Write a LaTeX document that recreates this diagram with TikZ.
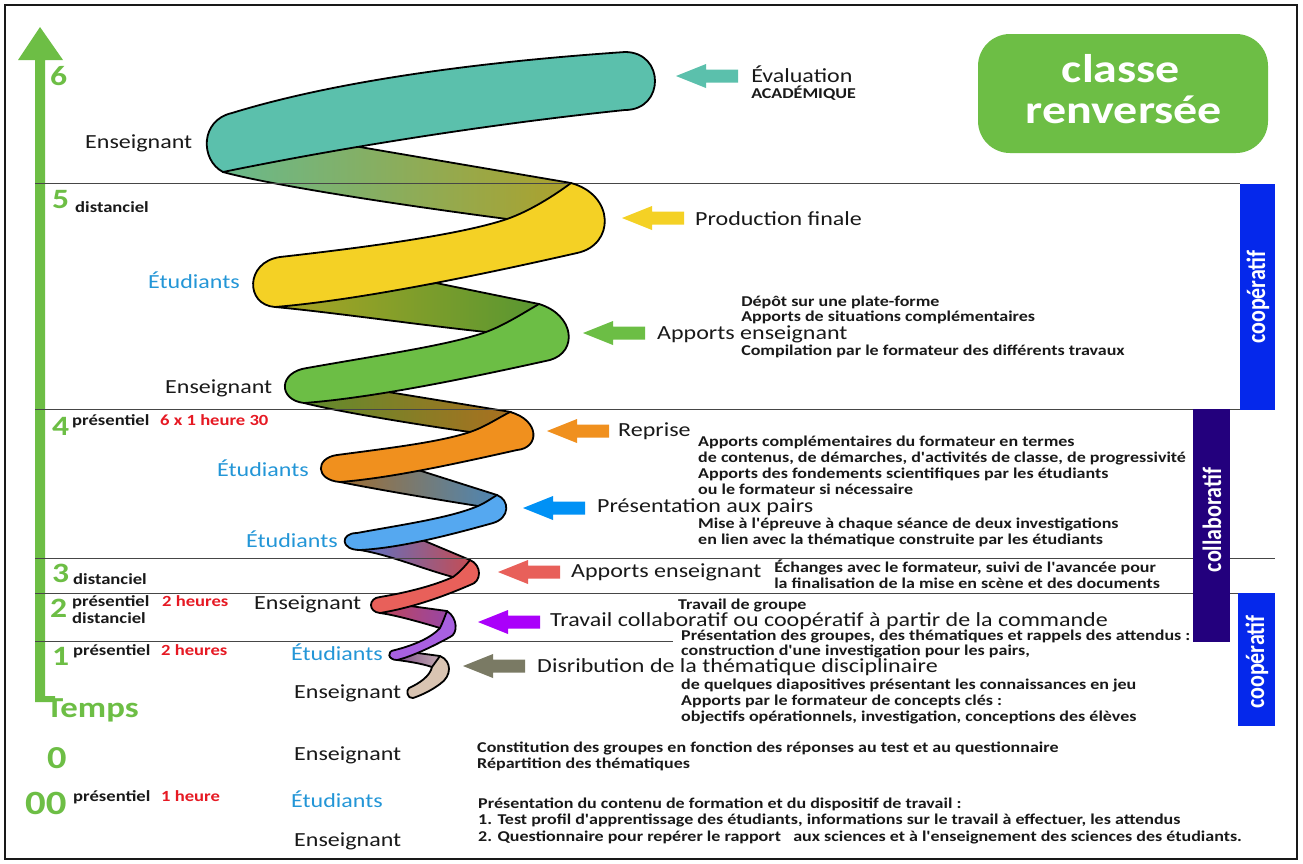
\documentclass[tikz,border=0pt]{standalone}
\usepackage{fontspec}
\setmainfont{Carlito}
\definecolor{axgreen}{RGB}{109,190,69}
\definecolor{teal1}{RGB}{91,192,172}
\definecolor{yel1}{RGB}{244,209,37}
\definecolor{grn1}{RGB}{108,190,69}
\definecolor{ora1}{RGB}{240,144,30}
\definecolor{blu1}{RGB}{85,168,240}
\definecolor{red1}{RGB}{232,96,90}
\definecolor{pur1}{RGB}{168,96,224}
\definecolor{tan1}{RGB}{217,196,178}
\definecolor{arblue}{RGB}{0,145,245}
\definecolor{arpur}{RGB}{170,0,250}
\definecolor{argray}{RGB}{122,122,100}
\definecolor{stublue}{RGB}{35,150,215}
\definecolor{hred}{RGB}{230,25,35}
\definecolor{barblue}{RGB}{5,40,235}
\definecolor{barind}{RGB}{35,0,125}
\definecolor{txt}{RGB}{25,25,25}
\definecolor{rulec}{RGB}{70,70,70}
\newcommand{\sq}{\textquotesingle}
\newcommand{\barrow}[3]{\fill[#1] (#2,#3) -- ++(30,-12) -- ++(0,5.5) -- ++(32,0) -- ++(0,13) -- ++(-32,0) -- ++(0,5.5) -- cycle;}
\tikzset{
  lbl/.style={anchor=base west, inner sep=0pt, font=\fontsize{20}{24}\selectfont, text=txt},
  stu/.style={lbl, text=stublue},
  sm/.style={anchor=base west, inner sep=0pt, font=\bfseries\fontsize{15}{18}\selectfont, text=txt},
  lsm/.style={sm, font=\bfseries\fontsize{15.5}{18}\selectfont},
  smred/.style={lsm, text=hred},
  num/.style={anchor=base west, inner sep=0pt, font=\bfseries\fontsize{28}{30}\selectfont, text=axgreen},
  ribbon/.style={draw=black, line width=1.8pt, line join=round},
  hline/.style={draw=rulec, line width=0.9pt},
  bartxt/.style={rotate=90, text=white, inner sep=0pt, font=\bfseries\fontsize{22}{24}\selectfont},
  ttl/.style={anchor=base, inner sep=0pt, text=white, font=\bfseries\fontsize{40}{44}\selectfont}
}
\begin{document}
\begin{tikzpicture}[xscale=1.2, x=0.833333pt, y=-1pt, every node/.append style={transform shape}]
\useasboundingbox (0,0) rectangle (1303,863);
\fill[white] (0,0) rectangle (1303,863);
\draw[line width=2pt, draw=txt] (5,5) rectangle (1297,859);

% time axis
\fill[axgreen] (40,27) -- (63,60) -- (45,60) -- (45,696) -- (55,696) -- (55,702) -- (35,702) -- (35,60) -- (18,60) -- cycle;

% back bands
\shadedraw[ribbon, left color={rgb,255:red,105;green,185;blue,140}, right color={rgb,255:red,175;green,160;blue,40}]
 (226,169) -- (354,146) -- (571,183) -- (585,215) -- (515,228) -- (507,219) .. controls (400,205) and (270,185) .. (223,172) -- cycle;
\shadedraw[ribbon, left color={rgb,255:red,170;green,165;blue,35}, right color={rgb,255:red,85;green,150;blue,50}]
 (278,304) -- (436,283) -- (539,304) -- (552,330) -- (492,340) -- (486,332) .. controls (420,325) and (330,312) .. (275,307) -- cycle;
\shadedraw[ribbon, left color={rgb,255:red,95;green,140;blue,45}, right color={rgb,255:red,175;green,110;blue,30}]
 (307,400) -- (382,391) -- (511,412) -- (525,432) -- (475,440) -- (470,432) .. controls (420,425) and (340,412) .. (304,403) -- cycle;
\shadedraw[ribbon, left color={rgb,255:red,160;green,110;blue,50}, right color={rgb,255:red,75;green,135;blue,185}]
 (342,479) -- (415,469) -- (497,495) -- (502,508) -- (482,513) -- (478,506) .. controls (440,500) and (380,490) .. (340,482) -- cycle;
\shadedraw[ribbon, left color={rgb,255:red,90;green,115;blue,200}, right color={rgb,255:red,200;green,75;blue,80}]
 (362,548) -- (420,539) -- (470,560) -- (474,572) -- (458,580) -- (453,577) .. controls (420,568) and (390,555) .. (360,550) -- cycle;
\shadedraw[ribbon, left color={rgb,255:red,190;green,70;blue,90}, right color={rgb,255:red,150;green,70;blue,170}]
 (383,610) -- (403,605) -- (447,611) -- (452,625) -- (443,632) -- (440,628) .. controls (420,622) and (395,615) .. (380,613) -- cycle;
\shadedraw[ribbon, left color={rgb,255:red,130;green,80;blue,140}, right color={rgb,255:red,200;green,180;blue,180}]
 (399,657) -- (410,652) -- (440,656) -- (445,668) -- (432,667) .. controls (420,663) and (405,661) .. (397,660) -- cycle;

% horizontal rules
\draw[hline] (35,183) -- (1240,183);
\draw[hline] (35,409) -- (1240,409);
\draw[hline] (35,558) -- (1275,558);
\draw[hline] (35,593) -- (1238,593);
\draw[hline] (35,641) -- (673,641);

% front ribbons
\filldraw[ribbon, fill=teal1] (232,113) .. controls (300,92) and (420,66) .. (625,52) .. controls (665,52) and (665,110) .. (625,110) .. controls (480,125) and (330,150) .. (223,172) .. controls (200,160) and (200,120) .. (232,113) -- cycle;
\filldraw[ribbon, fill=yel1] (571,183) .. controls (615,195) and (615,245) .. (577,253) .. controls (480,275) and (360,300) .. (275,307) .. controls (245,305) and (245,262) .. (280,257) .. controls (360,248) and (460,235) .. (507,219) .. controls (530,211) and (555,195) .. (571,183) -- cycle;
\filldraw[ribbon, fill=grn1] (539,304) .. controls (575,315) and (578,352) .. (550,360) .. controls (460,380) and (370,398) .. (304,403) .. controls (278,400) and (278,372) .. (307,368) .. controls (380,355) and (450,345) .. (486,332) .. controls (505,325) and (525,312) .. (539,304) -- cycle;
\filldraw[ribbon, fill=ora1] (510,412) .. controls (540,420) and (540,448) .. (517,450) .. controls (450,465) and (390,478) .. (340,482) .. controls (315,480) and (315,458) .. (337,455) .. controls (390,448) and (440,442) .. (470,432) .. controls (485,427) and (498,418) .. (510,412) -- cycle;
\filldraw[ribbon, fill=blu1] (497,495) .. controls (510,500) and (510,518) .. (493,523) .. controls (450,535) and (400,548) .. (360,550) .. controls (340,550) and (340,533) .. (357,533) .. controls (400,525) and (450,518) .. (478,506) .. controls (485,503) and (492,498) .. (497,495) -- cycle;
\filldraw[ribbon, fill=red1] (470,560) .. controls (482,565) and (482,582) .. (470,585) .. controls (440,598) and (410,608) .. (380,613) .. controls (368,612) and (368,598) .. (380,597) .. controls (410,592) and (435,585) .. (453,577) .. controls (460,572) and (466,565) .. (470,560) -- cycle;
\filldraw[ribbon, fill=pur1] (447,611) .. controls (458,618) and (458,634) .. (450,637) .. controls (430,648) and (410,657) .. (397,660) .. controls (388,660) and (386,651) .. (395,650) .. controls (415,645) and (432,637) .. (440,628) .. controls (443,622) and (445,616) .. (447,611) -- cycle;
\filldraw[ribbon, fill=tan1] (440,656) .. controls (452,661) and (452,676) .. (440,684) .. controls (432,690) and (422,695) .. (413,698) .. controls (407,699) and (406,690) .. (409,688) .. controls (420,683) and (430,676) .. (432,667) -- cycle;

% pointing arrows
\barrow{teal1}{676}{76}
\barrow{yel1}{622}{218}
\barrow{grn1}{583}{333}
\barrow{ora1}{547}{431}
\barrow{arblue}{523}{508}
\barrow{red1}{498}{572}
\barrow{arpur}{478}{622}
\barrow{argray}{463}{666}

% title
\fill[axgreen, rounded corners=32pt] (978,34) rectangle (1268,153);
\node[ttl] (t1) at (1121,82) {classe};
\node[ttl] (t2) at (1124,123) {renversée};

% side bars
\fill[barblue] (1240,184) rectangle (1275,410);
\node[bartxt] (b1) at (1258,297) {coopératif};
\fill[barind] (1193,409) rectangle (1230,642);
\node[bartxt] (b2) at (1212,520) {collaboratif};
\fill[barblue] (1238,593) rectangle (1275,726);
\node[bartxt] (b3) at (1257,662) {coopératif};

% axis numbers
\node[num] (n6) at (50,85) {6};
\node[num] (n5) at (52,208) {5};
\node[num] (n4) at (52,435) {4};
\node[num] (n3) at (52,582) {3};
\node[num] (n2) at (50,617) {2};
\node[num] (n1) at (52,665) {1};
\node[num, font=\bfseries\fontsize{29}{31}\selectfont] (tp) at (46,717) {Temps};
\node[num, font=\bfseries\fontsize{32}{34}\selectfont] (n0) at (47,768) {0};
\node[num, font=\bfseries\fontsize{34}{36}\selectfont] (n00) at (25,814) {00};

\node[lsm] (d5) at (75,212) {distanciel};
\node[lsm] (p4) at (72,425) {présentiel};
\node[smred] (h4) at (160,425) {6 x 1 heure 30};
\node[lsm] (d3) at (73,584) {distanciel};
\node[lsm] (p2) at (72,606) {présentiel};
\node[smred] (h2) at (162,606) {2 heures};
\node[lsm] (d2) at (72,623) {distanciel};
\node[lsm] (p1) at (73,655) {présentiel};
\node[smred] (h1) at (161,655) {2 heures};
\node[lsm] (p0) at (73,801) {présentiel};
\node[smred] (h0) at (161,801) {1 heure};

% actors
\node[lbl] (a1) at (85,148) {Enseignant};
\node[stu] (a2) at (148,288) {Étudiants};
\node[lbl] (a3) at (165,393) {Enseignant};
\node[stu] (a4) at (217,476) {Étudiants};
\node[stu] (a5) at (246,547) {Étudiants};
\node[lbl] (a6) at (254,609) {Enseignant};
\node[stu] (a7) at (291,660) {Étudiants};
\node[lbl] (a8) at (294,698) {Enseignant};
\node[lbl] (a9) at (294,760) {Enseignant};
\node[stu] (a10) at (291,807) {Étudiants};
\node[lbl] (a11) at (294,846) {Enseignant};

% step labels
\node[lbl] (s6) at (751,82) {Évaluation};
\node[sm] (s6b) at (751,98) {ACADÉMIQUE};
\node[lbl] (s5) at (695,225) {Production finale};
\node[sm] (s5a) at (741,306) {Dépôt sur une plate-forme};
\node[sm] (s5b) at (741,321) {Apports de situations complémentaires};
\node[lbl] (s5c) at (657,339) {Apports enseignant};
\node[sm] (s5d) at (741,355) {Compilation par le formateur des différents travaux};
\node[lbl] (s4) at (618,436) {Reprise};
\node[sm] (s4a) at (698,446) {Apports complémentaires du formateur en termes};
\node[sm] (s4b) at (698,462) {de contenus, de démarches, d\sq activités de classe, de progressivité};
\node[sm] (s4c) at (698,478) {Apports des fondements scientifiques par les étudiants};
\node[sm] (s4d) at (698,494) {ou le formateur si nécessaire};
\node[lbl] (s4e) at (597,512) {Présentation aux pairs};
\node[sm] (s4f) at (698,528) {Mise à l\sq épreuve à chaque séance de deux investigations};
\node[sm] (s4g) at (698,544) {en lien avec la thématique construite par les étudiants};
\node[lbl] (s3) at (571,577) {Apports enseignant};
\node[sm] (s3a) at (774,572) {Échanges avec le formateur, suivi de l\sq avancée pour};
\node[sm] (s3b) at (774,588) {la finalisation de la mise en scène et des documents};
\node[sm] (s2a) at (678,609) {Travail de groupe};
\node[lbl] (s2) at (550,626) {Travail collaboratif ou coopératif à partir de la commande};
\node[sm] (s1a) at (681,640) {Présentation des groupes, des thématiques et rappels des attendus :};
\node[sm] (s1b) at (681,655) {construction d\sq une investigation pour les pairs,};
\node[lbl] (s1) at (537,672) {Disribution de la thématique disciplinaire};
\node[sm] (s1c) at (681,689) {de quelques diapositives présentant les connaissances en jeu};
\node[sm] (s1d) at (681,705) {Apports par le formateur de concepts clés :};
\node[sm] (s1e) at (681,721) {objectifs opérationnels, investigation, conceptions des élèves};
\node[sm] (s0a) at (477,752) {Constitution des groupes en fonction des réponses au test et au questionnaire};
\node[sm] (s0b) at (477,768) {Répartition des thématiques};
\node[sm] (s00a) at (478,808) {Présentation du contenu de formation et du dispositif de travail :};
\node[sm] (s00b) at (478,824) {1. Test profil d\sq apprentissage des étudiants, informations sur le travail à effectuer, les attendus};
\node[sm] (s00c) at (478,841) {2. Questionnaire pour repérer le rapport~~ aux sciences et à l\sq enseignement des sciences des étudiants.};
\end{tikzpicture}
\end{document}
